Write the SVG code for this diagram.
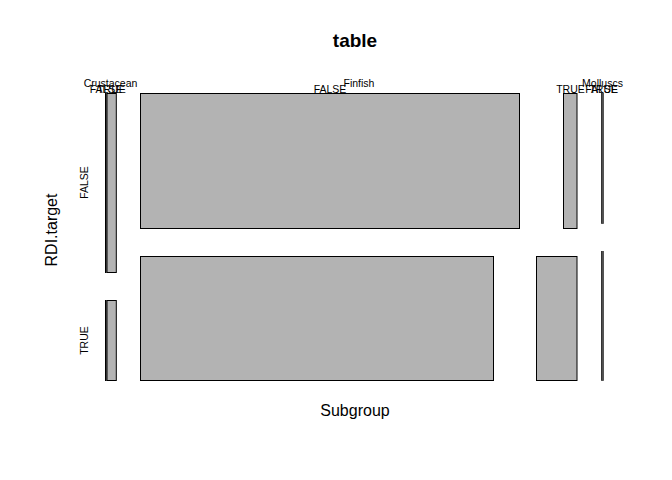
<svg xmlns="http://www.w3.org/2000/svg" width="672" height="480" viewBox="0 0 672 480">
<style>
text{font-family:"Liberation Sans",Arial,sans-serif;fill:#000}
.t{font-size:19px;font-weight:bold;text-anchor:middle}
.ax{font-size:16px;text-anchor:middle}
.sm{font-size:10.5px;text-anchor:middle}
.cell{fill:#B3B3B3;stroke:#000;stroke-width:1}
.thin{fill:#B3B3B3;stroke:#333;stroke-width:0.8}
</style>
<rect width="672" height="480" fill="#fff"/>
<text class="t" x="355" y="47">table</text>
<text class="ax" x="355" y="416">Subgroup</text>
<text class="ax" transform="translate(56.5,230) rotate(-90)">RDI.target</text>
<g id="crustacean">
<rect class="cell" x="105.5" y="93.5" width="0.6" height="179"/>
<rect class="cell" x="107" y="93.5" width="9.3" height="179"/>
<rect class="cell" x="105.5" y="300.5" width="0.6" height="80"/>
<rect class="cell" x="107" y="300.5" width="9.3" height="80"/>
<text class="sm" x="110.5" y="87">Crustacean</text>
<text class="sm" x="106" y="93">FALSE</text>
<text class="sm" x="111.5" y="93">TRUE</text>
</g>
<g id="finfish">
<rect class="cell" x="140.5" y="93.5" width="379" height="135"/>
<rect class="cell" x="563.5" y="93.5" width="13.5" height="135"/>
<rect class="cell" x="140.5" y="256.5" width="353" height="124"/>
<rect class="cell" x="536.5" y="256.5" width="40.5" height="124"/>
<text class="sm" x="359" y="87">Finfish</text>
<text class="sm" x="330" y="93">FALSE</text>
<text class="sm" x="570.5" y="93">TRUE</text>
</g>
<g id="molluscs">
<rect class="thin" x="601.4" y="93.5" width="0.4" height="130"/>
<rect class="thin" x="602.6" y="93.5" width="0.8" height="130"/>
<rect class="thin" x="601.4" y="251.5" width="0.4" height="129"/>
<rect class="thin" x="602.6" y="251.5" width="0.8" height="129"/>
<text class="sm" x="602.5" y="87">Molluscs</text>
<text class="sm" x="601.5" y="93">FALSE</text>
<text class="sm" x="603.7" y="93">TRUE</text>
</g>
<g id="y-labels">
<text class="sm" transform="translate(88,182.5) rotate(-90)">FALSE</text>
<text class="sm" transform="translate(88,340.5) rotate(-90)">TRUE</text>
</g>
<g id="connectors"/>
</svg>
